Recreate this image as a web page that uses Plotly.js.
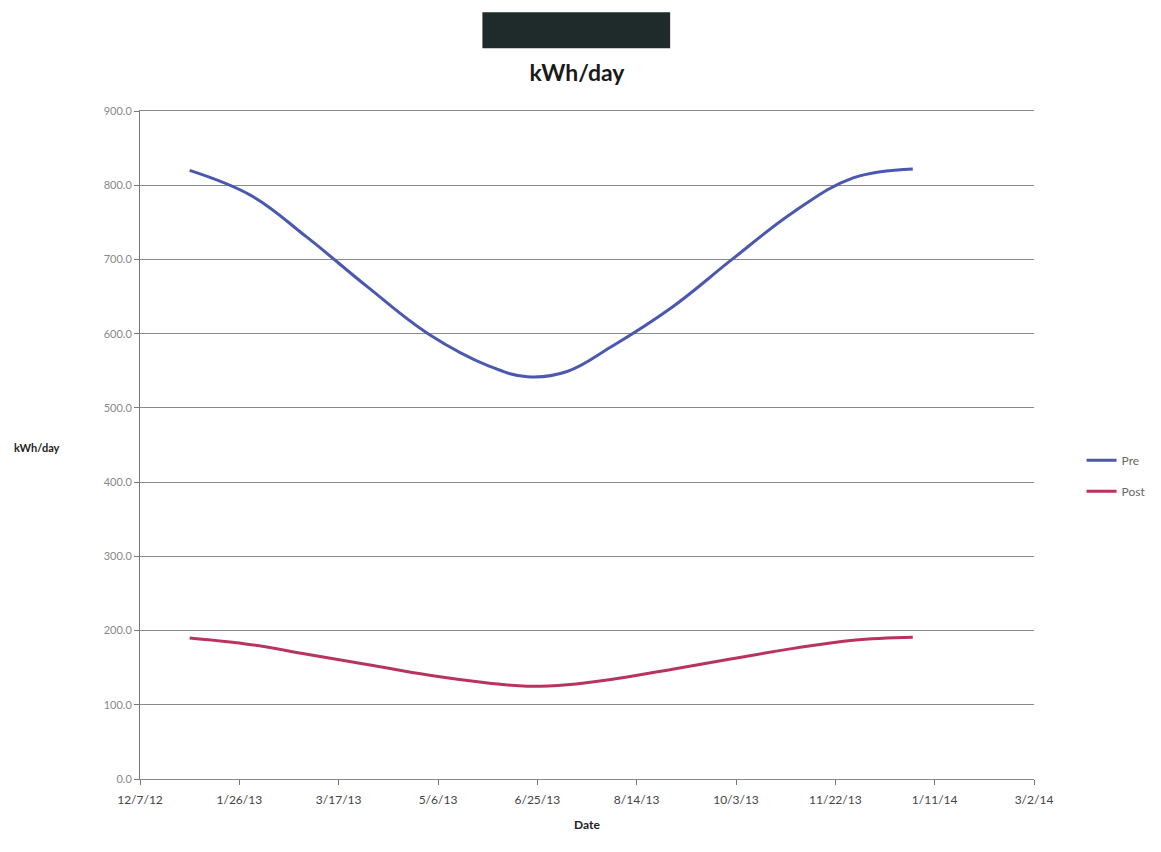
<!DOCTYPE html>
<html>
<head>
<meta charset="utf-8">
<script src="https://cdn.plot.ly/plotly-3.0.1.min.js"></script>
<style>html,body{margin:0;padding:0;background:#fff;}#chart{width:1161px;height:852px;}</style>
</head>
<body>
<div id="chart"></div>
<script>
var dates = ['2013-01-01','2013-02-01','2013-03-01','2013-04-01','2013-05-01','2013-06-01','2013-06-20','2013-07-10','2013-08-01','2013-09-01','2013-10-01','2013-11-01','2013-12-01','2013-12-31'];
var preValues = [820, 786, 730, 662, 600, 556, 542, 549, 582, 636, 700, 764, 810, 822];
var postValues = [190, 181, 168, 154, 140, 129, 125, 127, 134, 148, 162, 176, 187, 191];
var seriesNames = ['Pre', 'Post'];
var chartTitle = 'kWh/day';
var yTitle = 'kWh/day';
var xTitle = 'Date';

var font = 'Lato, "Open Sans", "Liberation Sans", sans-serif';
var traces = [
  {x: dates, y: preValues, name: seriesNames[0], type: 'scatter', mode: 'lines', legendgroup: 'a',
   line: {color: '#4a58b0', width: 3, shape: 'spline', smoothing: 1.1}},
  {x: dates, y: postValues, name: seriesNames[1], type: 'scatter', mode: 'lines', legendgroup: 'b',
   line: {color: '#b8345e', width: 3, shape: 'spline', smoothing: 1.1}}
];
var layout = {
  width: 1161, height: 852,
  margin: {l: 140, r: 126, t: 111, b: 73},
  paper_bgcolor: '#fff', plot_bgcolor: '#fff',
  font: {family: font, color: '#555'},
  title: {text: '<b>' + chartTitle + '</b>', x: 0.497, xanchor: 'center', y: 0.914, yanchor: 'middle', yref: 'container',
          font: {size: 23, color: '#1a1a1a', family: font}},
  xaxis: {type: 'date', range: ['2012-12-07', '2014-03-02'], tick0: '2012-12-07', dtick: 50*86400000,
          tickformat: '%-m/%-d/%y', showgrid: false, zeroline: false, showline: true, mirror: true, linecolor: '#888', linewidth: 1,
          ticks: 'outside', ticklen: 5, tickcolor: '#777', tickfont: {size: 12, color: '#444'}, ticklabelstandoff: 5,
          title: {text: '<b>' + xTitle + '</b>', font: {size: 12, color: '#222'}, standoff: 14}},
  yaxis: {range: [0, 900], dtick: 100, tickformat: '.1f', showgrid: true, gridcolor: '#8a8a8a', gridwidth: 1,
          zeroline: false, showline: true, linecolor: '#777', linewidth: 1, ticks: 'outside', ticklen: 5, tickcolor: '#777',
          tickfont: {size: 11, color: '#888'}},
  legend: {x: 1.052, xanchor: 'left', y: 0.454, yanchor: 'middle', font: {size: 12, color: '#666'},
           bgcolor: 'rgba(0,0,0,0)', tracegroupgap: 12, itemwidth: 30},
  showlegend: true,
  shapes: [{type: 'rect', xref: 'paper', yref: 'paper', x0: 0.383, x1: 0.593, y0: 1.094, y1: 1.148,
            fillcolor: '#1f2b2b', line: {width: 0}}],
  annotations: [{text: '<b>' + yTitle + '</b>', xref: 'paper', yref: 'paper', x: -0.115, y: 0.497,
                 xanchor: 'center', yanchor: 'middle', showarrow: false, font: {size: 11, color: '#222', family: font}}]
};
Plotly.newPlot('chart', traces, layout, {displayModeBar: false});
</script>
</body>
</html>
